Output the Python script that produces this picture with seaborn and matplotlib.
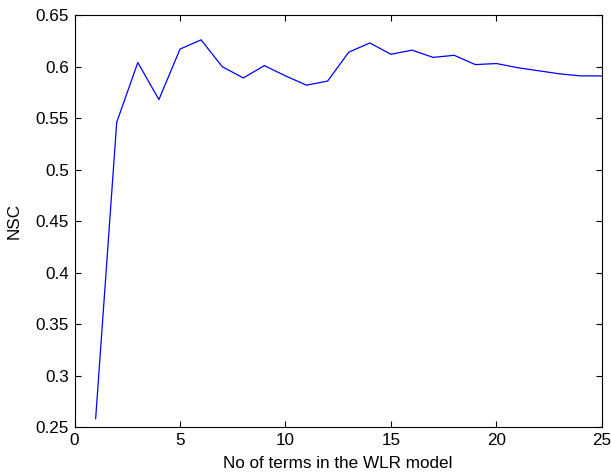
import matplotlib
matplotlib.use("Agg")
import matplotlib.pyplot as plt
import seaborn as sns
import pandas as pd

# Number of terms in the WLR model and the resulting NSC score
n_terms = list(range(1, 26))
nsc = [0.258, 0.546, 0.604, 0.568, 0.617, 0.626, 0.600, 0.589, 0.601, 0.591,
       0.582, 0.586, 0.614, 0.623, 0.612, 0.616, 0.609, 0.611, 0.602, 0.603,
       0.599, 0.596, 0.593, 0.591, 0.591]

x_ticks = [0, 5, 10, 15, 20, 25]
y_ticks = [0.25, 0.3, 0.35, 0.4, 0.45, 0.5, 0.55, 0.6, 0.65]
y_tick_labels = ["0.25", "0.3", "0.35", "0.4", "0.45", "0.5", "0.55", "0.6", "0.65"]

sns.set_style("ticks")
plt.rcParams["font.family"] = ["Liberation Sans", "DejaVu Sans"]
plt.rcParams["text.color"] = "black"
plt.rcParams["axes.labelcolor"] = "black"

df = pd.DataFrame({"terms": n_terms, "NSC": nsc})

fig = plt.figure(figsize=(6.11, 4.73), dpi=100)
ax = fig.add_axes([0.122, 0.097, 0.863, 0.871])
sns.lineplot(data=df, x="terms", y="NSC", color="#0000ff", linewidth=0.9, ax=ax)

ax.set_xlim(0, 25)
ax.set_ylim(0.25, 0.65)
ax.set_xticks(x_ticks)
ax.set_xticklabels([str(t) for t in x_ticks])
ax.set_yticks(y_ticks)
ax.set_yticklabels(y_tick_labels)
ax.tick_params(direction="in", top=True, right=True, labelsize=12.3,
               length=4, width=0.8, colors="black", pad=4)
for side in ax.spines.values():
    side.set_visible(True)
    side.set_linewidth(0.8)
    side.set_color("black")

ax.set_xlabel("No of terms in the WLR model", fontsize=12.3, labelpad=6)
ax.set_ylabel("NSC", fontsize=12.3, labelpad=10)

fig.savefig("out.png", dpi=100)
